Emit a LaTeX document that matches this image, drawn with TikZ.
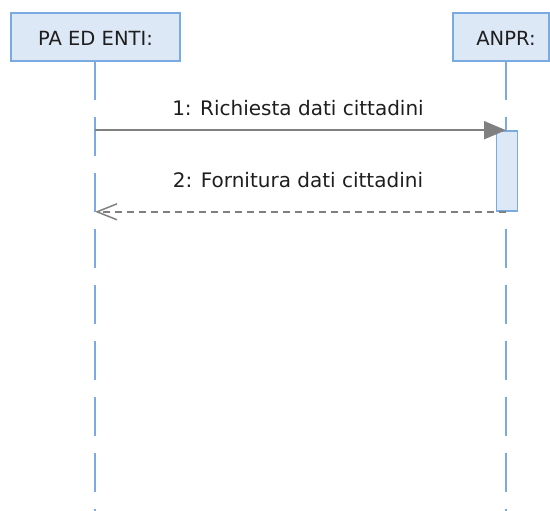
\documentclass[tikz,border=0pt]{standalone}
\usepackage{fontspec}
\setmainfont{DejaVu Sans}
\usetikzlibrary{arrows.meta}
\definecolor{boxfill}{RGB}{221,232,246}
\definecolor{boxline}{RGB}{122,170,226}
\definecolor{msggray}{RGB}{128,128,128}
\definecolor{txt}{RGB}{30,30,30}
\tikzset{
  header/.style={draw=boxline, fill=boxfill, line width=2pt, minimum height=48pt, inner sep=0pt},
  headtext/.style={text=txt, font=\fontsize{19.5}{23}\selectfont, inner sep=0pt, anchor=base},
  msgtext/.style={text=txt, font=\fontsize{20}{24}\selectfont, inner sep=0pt, anchor=base},
  lifeline/.style={draw=boxline, line width=2pt, dash pattern=on 39pt off 17pt},
  actbox/.style={draw=boxline, fill=boxfill, line width=1.6pt, minimum width=21pt, minimum height=80pt, inner sep=0pt},
  callmsg/.style={draw=msggray, line width=2pt, -{Triangle[length=22pt,width=18pt]}},
  retmsg/.style={draw=msggray, line width=1.5pt, dash pattern=on 7pt off 5pt, -{Straight Barb[length=20pt,width=16pt,line width=1.5pt]}}
}
\begin{document}
\begin{tikzpicture}[x=1pt,y=-1pt]
\useasboundingbox (0,0) rectangle (550,511);
% header boxes
\node[header, minimum width=169pt] (pa) at (95.5,37) {};
\node[header, minimum width=96pt] (anpr) at (501,37) {};
\node[headtext] (patext) at (95.5,46) {PA ED ENTI:};
\node[headtext] (anprtext) at (506,46) {ANPR:};
% lifeline coordinates
\coordinate (paL) at (95,61);
\coordinate (anL) at (506,61);
\coordinate (paB) at (95,511);
\coordinate (anB) at (506,511);
\draw[lifeline] (paL) -- (paB);
\draw[lifeline] (anL) -- (anB);
% activation
\node[actbox] (act) at (507,171) {};
% messages
\draw[callmsg] (paL |- act.north) -- (anL |- act.north);
\draw[retmsg] (anL |- act.south) -- (paL |- act.south);
\node[msgtext] (m1) at (298,116) {1: Richiesta dati cittadini};
\node[msgtext] (m2) at (298,187) {2: Fornitura dati cittadini};
\end{tikzpicture}
\end{document}
